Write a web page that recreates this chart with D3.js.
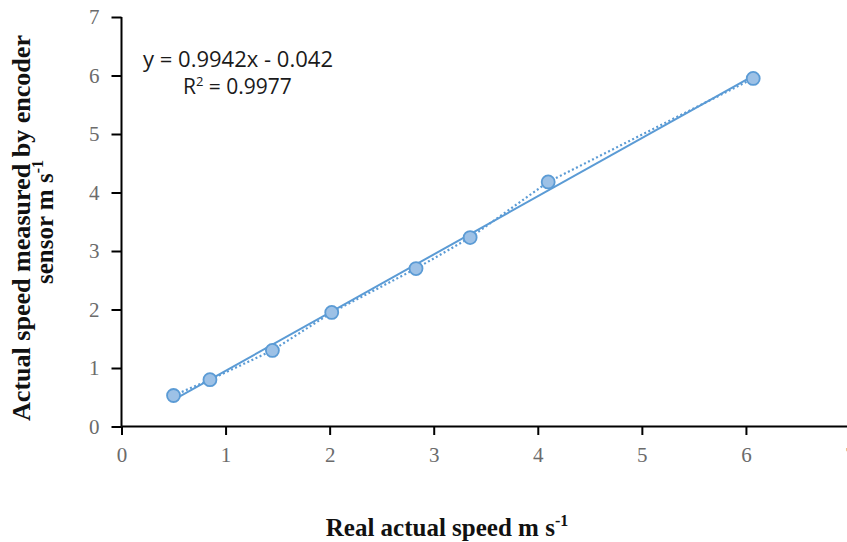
<!DOCTYPE html>
<html>
<head>
<meta charset="utf-8">
<script src="https://cdn.jsdelivr.net/npm/d3@7"></script>
<style>
  body { margin: 0; background: #fff; }
  svg { display: block; }
</style>
</head>
<body>
<svg width="847" height="542"></svg>
<script>
// measured points (real speed, encoder speed)
const realSpeed = [0.5, 0.85, 1.45, 2.02, 2.83, 3.35, 4.1, 6.07];
const encoderSpeed = [0.53, 0.8, 1.3, 1.95, 2.7, 3.23, 4.18, 5.95];
const xTicks = [0, 1, 2, 3, 4, 5, 6, 7];
const yTicks = [0, 1, 2, 3, 4, 5, 6, 7];
// linear trend shown on the chart
const slope = 0.9942;
const intercept = -0.042;
const eqText = "y = 0.9942x - 0.042";

const blue = "#5b9bd5";
const svg = d3.select("svg");

const x = d3.scaleLinear().domain([0, 7]).range([121.5, 850]);
const y = d3.scaleLinear().domain([0, 7]).range([426.5, 17]);

const pts = realSpeed.map((v, i) => [v, encoderSpeed[i]]);

// axes
const xAxis = svg.append("g")
    .attr("transform", `translate(0,${y(0)})`)
    .call(d3.axisBottom(x).tickValues(xTicks).tickSize(8.5).tickPadding(12).tickFormat(d3.format("d")));
const yAxis = svg.append("g")
    .attr("transform", `translate(${x(0)},0)`)
    .call(d3.axisLeft(y).tickValues(yTicks).tickSize(10).tickPadding(12).tickFormat(d3.format("d")));

[xAxis, yAxis].forEach(g => {
    g.select(".domain").attr("stroke", "#000").attr("stroke-width", 2);
    g.selectAll(".tick line").attr("stroke", "#000").attr("stroke-width", 2);
    g.selectAll(".tick text")
        .attr("fill", "#6b6b6b")
        .style("font-family", "'Liberation Serif', 'Times New Roman', serif")
        .style("font-size", "21px");
});
// no end caps on the domain lines
xAxis.select(".domain").attr("d", `M${x(0)},0H${x(7)}`);
yAxis.select(".domain").attr("d", `M0,${y(0)}V${y(7)}`);

// dotted line joining the points
svg.append("path")
    .datum(pts)
    .attr("fill", "none")
    .attr("stroke", blue)
    .attr("stroke-width", 2.2)
    .attr("stroke-dasharray", "2,2.5")
    .attr("d", d3.line().x(d => x(d[0])).y(d => y(d[1])));

// solid trend line
const xMin = d3.min(realSpeed), xMax = d3.max(realSpeed);
svg.append("path")
    .datum([xMin, xMax])
    .attr("fill", "none")
    .attr("stroke", blue)
    .attr("stroke-width", 2)
    .attr("d", d3.line().x(d => x(d)).y(d => y(slope * d + intercept)));

// markers
svg.append("g").selectAll("circle")
    .data(pts)
    .join("circle")
    .attr("cx", d => x(d[0]))
    .attr("cy", d => y(d[1]))
    .attr("r", 6.5)
    .attr("fill", "#9dc1e6")
    .attr("stroke", blue)
    .attr("stroke-width", 1.8);

// equation labels
const eq = svg.append("g")
    .style("font-family", "'Open Sans', 'Liberation Sans', sans-serif")
    .style("font-size", "21px")
    .attr("fill", "#1a1a1a");
eq.append("text").attr("x", 143).attr("y", 67)
    .attr("textLength", 190).attr("lengthAdjust", "spacingAndGlyphs")
    .text(eqText);
const r2 = eq.append("text").attr("x", 183).attr("y", 94);
r2.append("tspan").text("R");
r2.append("tspan").attr("dy", -8).style("font-size", "13px").text("2");
r2.append("tspan").attr("dy", 8).text(" = 0.9977");

// axis titles
const titleFont = "'Liberation Serif', 'Times New Roman', serif";
const xt = svg.append("text")
    .attr("x", 447).attr("y", 536)
    .attr("text-anchor", "middle")
    .style("font-family", titleFont).style("font-size", "25px").style("font-weight", "bold")
    .attr("fill", "#111");
xt.append("tspan").text("Real actual speed m  s");
xt.append("tspan").attr("dy", -10).style("font-size", "16px").text("-1");

const yt = svg.append("g")
    .attr("transform", "translate(30,228) rotate(-90)")
    .style("font-family", titleFont).style("font-size", "25px").style("font-weight", "bold")
    .attr("fill", "#111");
yt.append("text").attr("text-anchor", "middle").attr("y", 0)
    .attr("textLength", 386).attr("lengthAdjust", "spacingAndGlyphs")
    .text("Actual speed measured by  encoder");
const yt2 = yt.append("text").attr("text-anchor", "middle").attr("x", 6).attr("y", 23);
yt2.append("tspan").text("sensor m s");
yt2.append("tspan").attr("dy", -10).style("font-size", "16px").text("-1");
</script>
</body>
</html>
